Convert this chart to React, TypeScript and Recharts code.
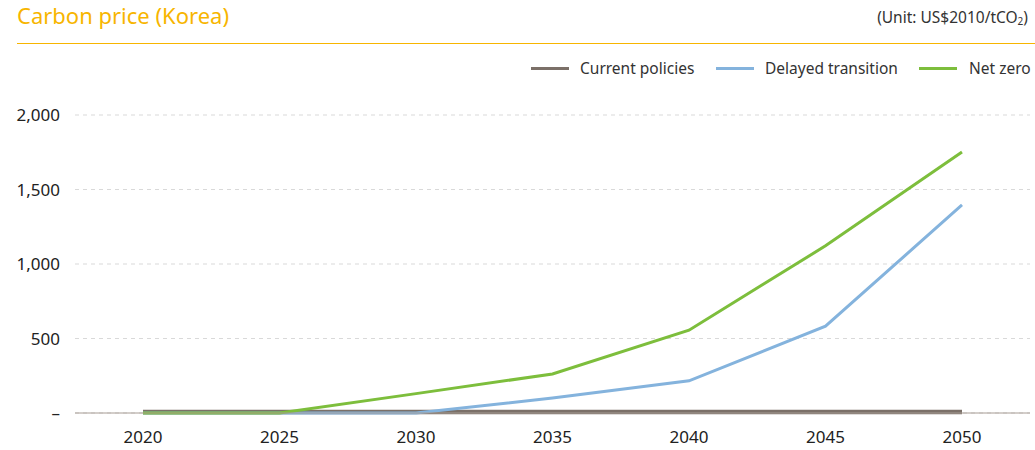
import React from "react";
import { LineChart, Line, XAxis, YAxis, CartesianGrid } from "recharts";

const years = ["2020", "2025", "2030", "2035", "2040", "2045", "2050"];
const currentPolicies = [6, 6, 6, 6, 6, 6, 6];
const delayedTransition = [0, 0, 0, 100, 216, 583, 1396];
const netZero = [0, 0, 130, 262, 556, 1122, 1752];
const yTicks = [0, 500, 1000, 1500, 2000];

const seriesNames = ["Current policies", "Delayed transition", "Net zero"];
const seriesColors = ["#7B7068", "#84B3DD", "#7DBE3C"];

const data = years.map((y, i) => ({
  year: y,
  current: currentPolicies[i],
  delayed: delayedTransition[i],
  net: netZero[i],
}));

const FONT = "'Noto Sans', 'Open Sans', sans-serif";

const fmt = (v: number) => (v === 0 ? "–" : v.toLocaleString("en-US"));

const legendPos = [
  { x: 531, tx: 580 },
  { x: 716, tx: 765 },
  { x: 919, tx: 969 },
];

export default function App() {
  return (
    <div
      style={{
        position: "absolute",
        left: 0,
        top: 0,
        width: 1035,
        height: 450,
        background: "#fff",
        fontFamily: FONT,
      }}
    >
      <div style={{ position: "absolute", left: 0, top: 0 }}>
        <LineChart
          width={1035}
          height={450}
          data={data}
          margin={{ top: 115, right: 5, bottom: 0, left: 0 }}
        >
          <CartesianGrid
            horizontal
            vertical={false}
            stroke="#D9D9D9"
            strokeDasharray="4 4"
          />
          <XAxis
            dataKey="year"
            type="category"
            height={37}
            padding={{ left: 68, right: 68 }}
            axisLine={{ stroke: "#A79C94", strokeWidth: 1 }}
            tickLine={false}
            tickSize={0}
            tickMargin={18}
            tick={{ fontSize: 17, fill: "#222", fontFamily: FONT }}
            interval={0}
          />
          <YAxis
            width={75}
            domain={[0, 2000]}
            ticks={yTicks}
            axisLine={false}
            tickLine={false}
            tickSize={0}
            tickMargin={15}
            tickFormatter={fmt}
            tick={{ fontSize: 17, fill: "#222", fontFamily: FONT }}
            interval={0}
          />
          <Line
            dataKey="current"
            stroke={seriesColors[0]}
            strokeWidth={4.5}
            dot={false}
            isAnimationActive={false}
          />
          <Line
            dataKey="delayed"
            stroke={seriesColors[1]}
            strokeWidth={3}
            dot={false}
            isAnimationActive={false}
          />
          <Line
            dataKey="net"
            stroke={seriesColors[2]}
            strokeWidth={3}
            dot={false}
            isAnimationActive={false}
          />
        </LineChart>
      </div>
      <div
        style={{
          position: "absolute",
          left: 17,
          top: 0,
          fontSize: 22,
          color: "#F7B500",
          whiteSpace: "nowrap",
        }}
      >
        Carbon price (Korea)
      </div>
      <div
        style={{
          position: "absolute",
          right: 7,
          top: 6,
          fontSize: 15.5,
          color: "#333",
          whiteSpace: "nowrap",
        }}
      >
        (Unit: US$2010/tCO<sub style={{ fontSize: 10, verticalAlign: "-2px" }}>2</sub>)
      </div>
      <div
        style={{
          position: "absolute",
          left: 17,
          top: 43,
          width: 1018,
          height: 0,
          borderTop: "1.5px solid #F7B500",
          zIndex: 5,
        }}
      />
      {seriesNames.map((n, i) => (
        <React.Fragment key={n}>
          <div
            style={{
              position: "absolute",
              left: legendPos[i].x,
              top: 67,
              width: 38,
              height: 3,
              background: seriesColors[i],
            }}
          />
          <div
            style={{
              position: "absolute",
              left: legendPos[i].tx,
              top: 57,
              fontSize: 15.5,
              color: "#333",
              whiteSpace: "nowrap",
            }}
          >
            {n}
          </div>
        </React.Fragment>
      ))}
    </div>
  );
}
